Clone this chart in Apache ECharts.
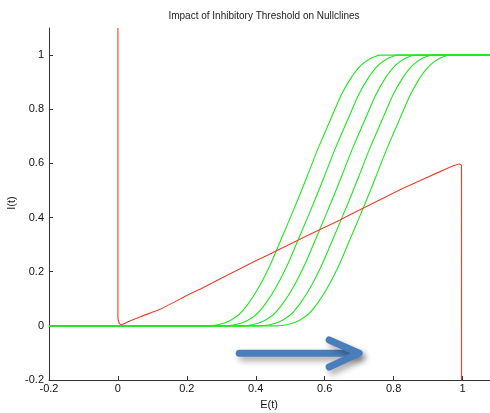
<!DOCTYPE html>
<html>
<head>
<meta charset="utf-8">
<script src="https://cdn.jsdelivr.net/npm/echarts@6/dist/echarts.min.js"></script>
<style>html,body{margin:0;padding:0;background:#fff}#c{width:490px;height:413px}</style>
</head>
<body>
<div id="c"></div>
<script>
var titleText = 'Impact of Inhibitory Threshold on Nullclines';
var xName = 'E(t)';
var yName = 'I(t)';
var xTicks = [-0.2, 0, 0.2, 0.4, 0.6, 0.8, 1];
var yTicks = [-0.2, 0, 0.2, 0.4, 0.6, 0.8, 1];

var redNullcline = [[0,1.1],[0,0.03],[0.004,0.01],[0.01,0.004],[0.028,0.014],[0.066,0.034],[0.124,0.062],[0.2,0.112],[0.241,0.137],[0.3,0.176],[0.4,0.24],[0.447,0.269],[0.512,0.31],[0.576,0.349],[0.643,0.39],[0.704,0.43],[0.823,0.505],[0.9,0.55],[0.95,0.578],[0.975,0.592],[0.99,0.598],[0.997,0.592],[0.997,-0.2]];

var greenNullcline1 = [[-0.2,0],[0.26,0],[0.29,0.004],[0.32,0.016],[0.35,0.04],[0.38,0.085],[0.41,0.145],[0.446,0.237],[0.482,0.345],[0.52,0.46],[0.55,0.555],[0.579,0.65],[0.618,0.765],[0.647,0.85],[0.676,0.915],[0.705,0.962],[0.734,0.988],[0.76,1],[1.1,1]];
var greenNullcline2 = [[-0.2,0],[0.31,0],[0.34,0.004],[0.37,0.016],[0.40,0.04],[0.43,0.085],[0.46,0.145],[0.496,0.237],[0.532,0.345],[0.57,0.46],[0.60,0.555],[0.629,0.65],[0.668,0.765],[0.697,0.85],[0.726,0.915],[0.755,0.962],[0.784,0.988],[0.81,1],[1.1,1]];
var greenNullcline3 = [[-0.2,0],[0.36,0],[0.39,0.004],[0.42,0.016],[0.45,0.04],[0.48,0.085],[0.51,0.145],[0.546,0.237],[0.582,0.345],[0.62,0.46],[0.65,0.555],[0.679,0.65],[0.718,0.765],[0.747,0.85],[0.776,0.915],[0.805,0.962],[0.834,0.988],[0.86,1],[1.1,1]];
var greenNullcline4 = [[-0.2,0],[0.41,0],[0.44,0.004],[0.47,0.016],[0.50,0.04],[0.53,0.085],[0.56,0.145],[0.596,0.237],[0.632,0.345],[0.67,0.46],[0.70,0.555],[0.729,0.65],[0.768,0.765],[0.797,0.85],[0.826,0.915],[0.855,0.962],[0.884,0.988],[0.91,1],[1.1,1]];
var greenNullcline5 = [[-0.2,0],[0.46,0],[0.49,0.004],[0.52,0.016],[0.55,0.04],[0.58,0.085],[0.61,0.145],[0.646,0.237],[0.682,0.345],[0.72,0.46],[0.75,0.555],[0.779,0.65],[0.818,0.765],[0.847,0.85],[0.876,0.915],[0.905,0.962],[0.934,0.988],[0.96,1],[1.1,1]];

var arrowShaft = [[0.352,-0.101],[0.695,-0.101]];
var arrowHead = [[0.613,-0.052],[0.700,-0.101],[0.613,-0.152]];

var FONT = "'Liberation Sans', Arial, sans-serif";
var chart = echarts.init(document.getElementById('c'), null, {renderer:'canvas'});

function greenSeries(d){
  return {type:'line', data:d, showSymbol:false, smooth:0.15, silent:true,
    lineStyle:{color:'#1ee81e', width:1.1}, z:3};
}

chart.setOption({
  animation:false,
  backgroundColor:'#fff',
  grid:{left:49, top:28, width:448, height:352, containLabel:false, outerBoundsMode:'none'},
  xAxis:{type:'value', min:-0.2, max:1.1,
    axisLine:{show:true, onZero:false, lineStyle:{color:'#333', width:1}},
    axisTick:{show:true, inside:true, length:4, customValues:xTicks, lineStyle:{color:'#333'}},
    axisLabel:{customValues:xTicks, color:'#111', fontFamily:FONT, fontSize:11, margin:3},
    splitLine:{show:false}},
  yAxis:{type:'value', min:-0.2, max:1.1,
    axisLine:{show:true, onZero:false, lineStyle:{color:'#333', width:1}},
    axisTick:{show:true, inside:true, length:4, customValues:yTicks, lineStyle:{color:'#333'}},
    axisLabel:{customValues:yTicks, color:'#111', fontFamily:FONT, fontSize:11, margin:5},
    splitLine:{show:false}},
  graphic:[
    {type:'text', x:264, y:16, style:{text:titleText, font:'10px '+FONT, fill:'#222', textAlign:'center', textVerticalAlign:'middle'}},
    {type:'text', x:269, y:405, style:{text:xName, font:'11px '+FONT, fill:'#111', textAlign:'center', textVerticalAlign:'middle'}},
    {type:'text', x:12, y:203, rotation:Math.PI/2, style:{text:yName, font:'11px '+FONT, fill:'#111', textAlign:'center', textVerticalAlign:'middle'}}
  ],
  series:[
    greenSeries(greenNullcline1),
    greenSeries(greenNullcline2),
    greenSeries(greenNullcline3),
    greenSeries(greenNullcline4),
    greenSeries(greenNullcline5),
    {type:'line', data:redNullcline, showSymbol:false, smooth:0.15, silent:true,
      lineStyle:{color:'#f23c26', width:1.1}, z:4},
    {type:'line', data:arrowShaft, showSymbol:false, silent:true, z:5,
      lineStyle:{color:'#4a7ebb', width:7, cap:'round', shadowColor:'rgba(0,0,0,0.35)', shadowBlur:6, shadowOffsetX:3, shadowOffsetY:4}},
    {type:'line', data:arrowHead, showSymbol:false, silent:true, z:5,
      lineStyle:{color:'#4a7ebb', width:7, cap:'round', join:'round', shadowColor:'rgba(0,0,0,0.35)', shadowBlur:6, shadowOffsetX:3, shadowOffsetY:4}}
  ]
});
</script>
</body>
</html>
